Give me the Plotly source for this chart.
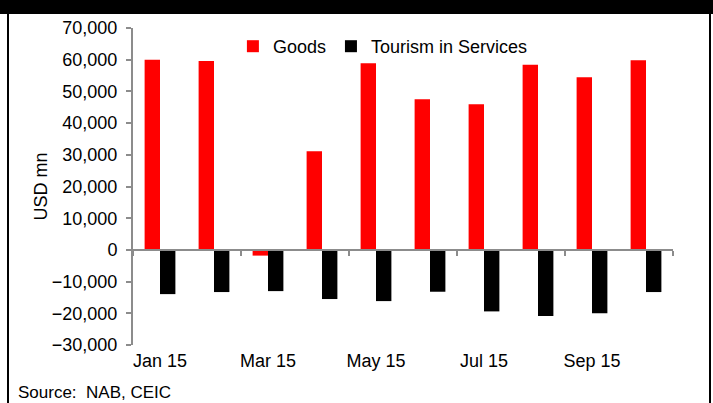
import plotly.graph_objects as go

months = ["Jan 15", "Feb 15", "Mar 15", "Apr 15", "May 15", "Jun 15", "Jul 15", "Aug 15", "Sep 15", "Oct 15"]
goods = [60000, 59600, -1800, 31150, 58850, 47500, 45950, 58400, 54450, 59800]
tourism = [-13950, -13300, -13000, -15500, -16150, -13200, -19400, -20850, -19950, -13300]
label_months = ["Jan 15", "Mar 15", "May 15", "Jul 15", "Sep 15"]
y_ticks = [-30000, -20000, -10000, 0, 10000, 20000, 30000, 40000, 50000, 60000, 70000]

xpos = list(range(len(months)))
FONT = "Liberation Sans, Arial, sans-serif"
GRAY = "#8c8c8c"

fig = go.Figure()
fig.add_trace(go.Bar(x=xpos, y=goods, name="Goods", marker=dict(color="#ff0000", line=dict(width=0))))
fig.add_trace(go.Bar(x=xpos, y=tourism, name="Tourism in Services", marker=dict(color="#000000", line=dict(width=0))))
# invisible trace to carry the zero-crossing axis
fig.add_trace(go.Scatter(x=[xpos[0]], y=[0], xaxis="x2", mode="markers", marker=dict(opacity=0), showlegend=False, hoverinfo="skip"))

lab_vals = [months.index(m) for m in label_months]
bound_vals = [i - 0.5 for i in range(0, len(months) + 1, 2)]

fig.update_layout(
    width=713, height=403,
    margin=dict(l=133, r=40, t=27.5, b=57.5),
    paper_bgcolor="white", plot_bgcolor="white",
    font=dict(family=FONT, size=18, color="black"),
    barmode="group", bargap=0.43, bargroupgap=0,
    showlegend=True,
    legend=dict(orientation="h", x=0.185, y=1.0, xanchor="left", yanchor="top",
                font=dict(size=18), bgcolor="rgba(0,0,0,0)", itemwidth=30,
                tracegroupgap=0),
    xaxis=dict(range=[-0.5, len(months) - 0.5], tickmode="array", tickvals=lab_vals,
               ticktext=label_months, ticks="", showline=False, showgrid=False,
               zeroline=False, ticklabelstandoff=3),
    xaxis2=dict(overlaying="x", anchor="free", position=0.3, range=[-0.5, len(months) - 0.5],
                tickmode="array", tickvals=bound_vals, showticklabels=False,
                ticks="outside", ticklen=5, tickwidth=2, tickcolor=GRAY,
                showline=True, linecolor=GRAY, linewidth=2, showgrid=False, zeroline=False),
    yaxis=dict(range=[-30000, 70000], tickmode="array", tickvals=y_ticks,
               tickformat=",d", ticks="outside", ticklen=5, tickwidth=2, tickcolor=GRAY,
               showline=True, linecolor=GRAY, linewidth=2, showgrid=False, zeroline=False,
               ticklabelstandoff=5),
)

fig.add_annotation(text="USD mn", xref="paper", yref="paper", x=(40 - 133) / 540, y=0.5,
                   textangle=-90, showarrow=False, font=dict(size=18),
                   xanchor="center", yanchor="middle")
fig.add_annotation(text="Source:  NAB, CEIC", xref="paper", yref="paper",
                   x=(16 - 133) / 540, y=(345.5 - 393) / 318, showarrow=False,
                   font=dict(size=17), xanchor="left", yanchor="middle")

# frame: top black band and side borders
fig.add_shape(type="rect", xref="paper", yref="paper", x0=-0.3, x1=1.2,
              y0=(345.5 - 13.5) / 318, y1=1.2, fillcolor="black", line=dict(width=0), layer="above")
fig.add_shape(type="line", xref="paper", yref="paper", x0=(8 - 133) / 540, x1=(8 - 133) / 540,
              y0=-0.3, y1=1.1, line=dict(color="black", width=2))
fig.add_shape(type="line", xref="paper", yref="paper", x0=(710 - 133) / 540, x1=(710 - 133) / 540,
              y0=-0.3, y1=1.1, line=dict(color="black", width=2))

fig.write_html("out.html")
